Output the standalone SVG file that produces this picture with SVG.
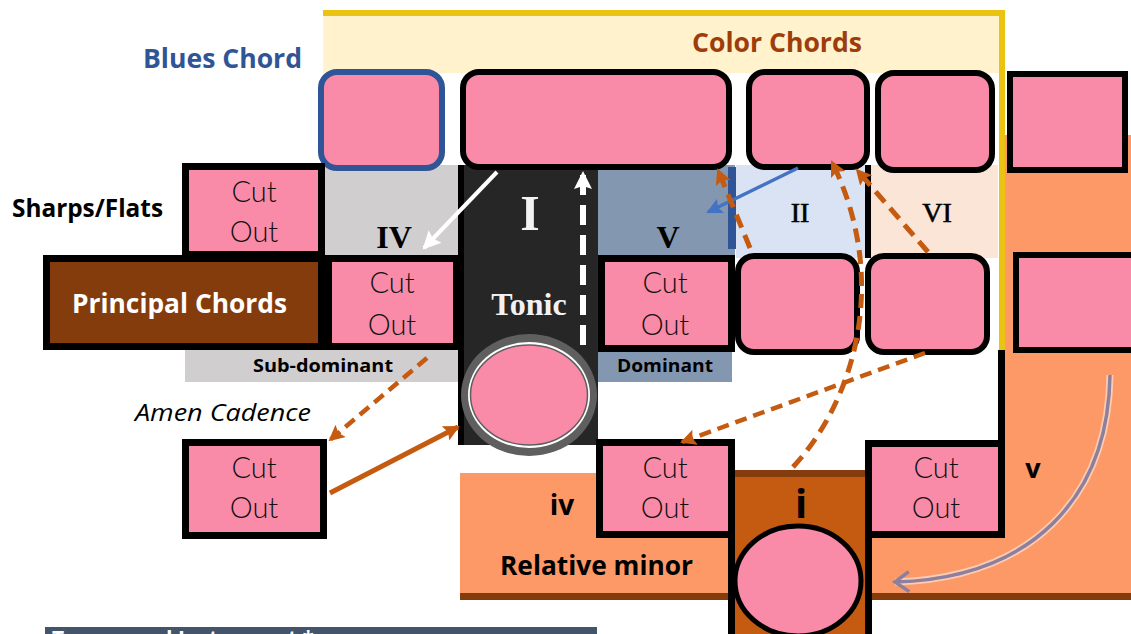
<svg xmlns="http://www.w3.org/2000/svg" width="1131" height="634" viewBox="0 0 1131 634">
<style>
.pink{fill:#f98ba9}
.rbox{fill:#f98ba9;stroke:#000;stroke-width:6}
.sbox{fill:#f98ba9;stroke:#000;stroke-width:7}
.cut{font-family:Lato,"Open Sans",sans-serif;font-weight:300;font-size:29px;fill:#111;text-anchor:middle}
.sans{font-family:"Open Sans","Liberation Sans",sans-serif;font-weight:700}
.serif{font-family:"Liberation Serif","DejaVu Serif",serif;text-anchor:middle}
.dash{fill:none;stroke:#c55a11;stroke-width:5;stroke-dasharray:14 8}
.dash2{fill:none;stroke:#c55a11;stroke-width:4.5;stroke-dasharray:12 7}
</style>
<defs>
<marker id="mo" markerUnits="userSpaceOnUse" markerWidth="18" markerHeight="18" refX="14" refY="8" orient="auto"><path d="M0,0 L16,8 L0,16 L3,8 z" fill="#c55a11"/></marker>
<marker id="mw" markerUnits="userSpaceOnUse" markerWidth="20" markerHeight="20" refX="16" refY="9" orient="auto"><path d="M0,0 L18,9 L0,18 L3,9 z" fill="#fff"/></marker>
<marker id="mb" markerUnits="userSpaceOnUse" markerWidth="18" markerHeight="18" refX="14" refY="8" orient="auto"><path d="M0,0 L16,8 L0,16 L3,8 z" fill="#4472c4"/></marker>
<marker id="mg" markerUnits="userSpaceOnUse" markerWidth="20" markerHeight="24" refX="16" refY="12" orient="auto"><path d="M2,2 L16,12 L2,22" fill="none" stroke="#8d7f9e" stroke-width="3.5"/></marker>
</defs>

<g id="backgrounds">
<rect x="323" y="16" width="676" height="57" fill="#fff2cc"/>
<path d="M323,13 H1002 V350" fill="none" stroke="#ebc312" stroke-width="6"/>
<rect x="998" y="350" width="7" height="92" fill="#000"/>
<rect x="1005" y="135" width="126" height="458" fill="#fd9966"/>
<rect x="870" y="537" width="261" height="56" fill="#fd9966"/>
<rect x="870" y="593" width="261" height="7" fill="#843c0c"/>
<rect x="460" y="473" width="275" height="120" fill="#fd9966"/>
<rect x="460" y="593" width="275" height="7" fill="#843c0c"/>
<rect x="325" y="165" width="135" height="93" fill="#d0cece"/>
<rect x="185" y="350" width="275" height="32" fill="#d0cece"/>
<rect x="598" y="165" width="137" height="93" fill="#8497b0"/>
<rect x="598" y="350" width="134" height="32" fill="#8497b0"/>
<rect x="728" y="167" width="8" height="82" fill="#2f5597"/>
<rect x="736" y="165" width="130" height="93" fill="#dae3f3"/>
<rect x="865" y="165" width="6" height="93" fill="#000"/>
<rect x="871" y="165" width="127" height="93" fill="#fbe5d6"/>
<rect x="45" y="627" width="552" height="7" fill="#44546a"/>
<text x="52" y="646" class="sans" font-size="22" fill="#fff" textLength="262" lengthAdjust="spacingAndGlyphs">Transposed Instrument *</text>
</g>

<g id="labels">
<text x="143" y="68" class="sans" font-size="26" fill="#2f5597" textLength="159" lengthAdjust="spacingAndGlyphs">Blues Chord</text>
<text x="692" y="52" class="sans" font-size="26" fill="#9e3d0b" textLength="170" lengthAdjust="spacingAndGlyphs">Color Chords</text>
<text x="12" y="217" class="sans" font-size="25" fill="#000" textLength="151" lengthAdjust="spacingAndGlyphs">Sharps/Flats</text>
<text x="135" y="421" font-family="'Open Sans','Liberation Sans',sans-serif" font-style="italic" font-size="24" fill="#000" textLength="176" lengthAdjust="spacingAndGlyphs">Amen Cadence</text>
<text x="253" y="372" class="sans" font-size="18" fill="#000" textLength="140" lengthAdjust="spacingAndGlyphs">Sub-dominant</text>
<text x="617" y="372" class="sans" font-size="18" fill="#000" textLength="96" lengthAdjust="spacingAndGlyphs">Dominant</text>
<text x="394" y="248" class="serif" font-weight="700" font-size="32" fill="#000">IV</text>
<text x="668" y="248" class="serif" font-weight="700" font-size="32" fill="#000">V</text>
<text x="800" y="222" class="serif" font-size="28" fill="#000" stroke="#000" stroke-width="0.6">II</text>
<text x="937" y="222" class="serif" font-size="28" fill="#000" stroke="#000" stroke-width="0.6">VI</text>
<text x="1033" y="478" class="sans" font-size="27" fill="#000" text-anchor="middle">v</text>
<text x="562" y="515" class="sans" font-size="28" fill="#000" text-anchor="middle">iv</text>
<text x="500" y="575" class="sans" font-size="26" fill="#000" textLength="193" lengthAdjust="spacingAndGlyphs">Relative minor</text>
</g>

<g id="tonic">
<rect x="460" y="165" width="138" height="280" fill="#262626"/>
<rect x="458" y="165" width="6" height="280" fill="#000"/>
<text x="530" y="230" class="serif" font-weight="700" font-size="50" fill="#f2f2f2">I</text>
<text x="529" y="315" class="serif" font-weight="700" font-size="32" fill="#f2f2f2">Tonic</text>
<ellipse cx="529" cy="395" rx="68" ry="61" fill="#5f5f5f"/>
<ellipse cx="529" cy="395" rx="61" ry="53" fill="#fff"/>
<ellipse cx="529" cy="395" rx="58.5" ry="50" fill="#f98ba9" stroke="#5f5f5f" stroke-width="1.5"/>
</g>

<g id="blues-chord"><rect x="321" y="72" width="121" height="96" rx="16" fill="#f98ba9" stroke="#2f5597" stroke-width="6"/></g>
<g id="color-big"><rect x="463" y="72" width="266" height="95" rx="16" class="rbox"/></g>
<g id="color-3"><rect x="749" y="72" width="118" height="95" rx="16" class="rbox"/></g>
<g id="color-4"><rect x="878" y="73" width="114" height="97" rx="16" class="rbox"/></g>
<g id="right-top"><rect x="1010" y="74" width="115" height="96" class="rbox"/></g>
<g id="row3-a"><rect x="738" y="256" width="119" height="96" rx="16" class="rbox"/></g>
<g id="row3-b"><rect x="868" y="256" width="119" height="96" rx="16" class="rbox"/></g>
<g id="right-mid"><rect x="1016" y="255" width="120" height="95" class="rbox"/></g>

<g id="principal-chords">
<rect x="46.5" y="258.5" width="275" height="88" fill="#843c0c" stroke="#000" stroke-width="7"/>
<text x="72" y="313" class="sans" font-size="26" fill="#fff" textLength="215" lengthAdjust="spacingAndGlyphs">Principal Chords</text>
</g>

<g id="cut-1"><rect x="185.5" y="166.5" width="136" height="88" class="sbox"/><text x="254" y="202" class="cut">Cut</text><text x="254" y="242" class="cut">Out</text></g>
<g id="cut-2"><rect x="328.5" y="258.5" width="128" height="88" class="sbox"/><text x="392" y="293" class="cut">Cut</text><text x="392" y="335" class="cut">Out</text></g>
<g id="cut-3"><rect x="601.5" y="258.5" width="130" height="90" class="sbox"/><text x="665" y="293" class="cut">Cut</text><text x="665" y="335" class="cut">Out</text></g>
<g id="cut-4"><rect x="599.5" y="442.5" width="132" height="92" class="sbox"/><text x="665" y="478" class="cut">Cut</text><text x="665" y="518" class="cut">Out</text></g>
<g id="cut-5"><rect x="868.5" y="443.5" width="133" height="91" class="sbox"/><text x="936" y="478" class="cut">Cut</text><text x="936" y="518" class="cut">Out</text></g>
<g id="cut-6"><rect x="185.5" y="442.5" width="138" height="93" class="sbox"/><text x="254" y="478" class="cut">Cut</text><text x="254" y="518" class="cut">Out</text></g>

<g id="minor-i">
<rect x="728" y="470" width="144" height="164" fill="#000"/>
<rect x="735" y="470" width="130" height="164" fill="#c55a11"/>
<rect x="735" y="470" width="130" height="7" fill="#843c0c"/>
<text x="801" y="518" class="sans" font-size="40" fill="#000" text-anchor="middle">i</text>
<ellipse cx="798" cy="581" rx="63" ry="55" fill="#f98ba9" stroke="#000" stroke-width="5"/>
</g>

<g id="connectors">
<line x1="497" y1="172" x2="424" y2="248" stroke="#fff" stroke-width="4" marker-end="url(#mw)"/>
<line x1="583" y1="345" x2="583" y2="173" stroke="#fff" stroke-width="6" stroke-dasharray="20 10" marker-end="url(#mw)"/>
<line x1="798" y1="168" x2="708" y2="212" stroke="#4472c4" stroke-width="3.5" marker-end="url(#mb)"/>
<line x1="750" y1="248" x2="718" y2="170" class="dash" marker-end="url(#mo)"/>
<path d="M793,467 C855,400 890,280 832,162" class="dash" marker-end="url(#mo)"/>
<line x1="928" y1="252" x2="857" y2="170" class="dash" marker-end="url(#mo)"/>
<line x1="925" y1="353" x2="682" y2="442" class="dash2" marker-end="url(#mo)"/>
<line x1="427" y1="358" x2="330" y2="440" class="dash2" marker-end="url(#mo)"/>
<line x1="330" y1="493" x2="458" y2="427" stroke="#c55a11" stroke-width="5" marker-end="url(#mo)"/>
<path d="M1110,375 C1108,500 1030,578 895,582" fill="none" stroke="#fff" stroke-opacity="0.5" stroke-width="7"/>
<path d="M1110,375 C1108,500 1030,578 895,582" fill="none" stroke="#8d7f9e" stroke-width="3.5" marker-end="url(#mg)"/>
</g>
</svg>
